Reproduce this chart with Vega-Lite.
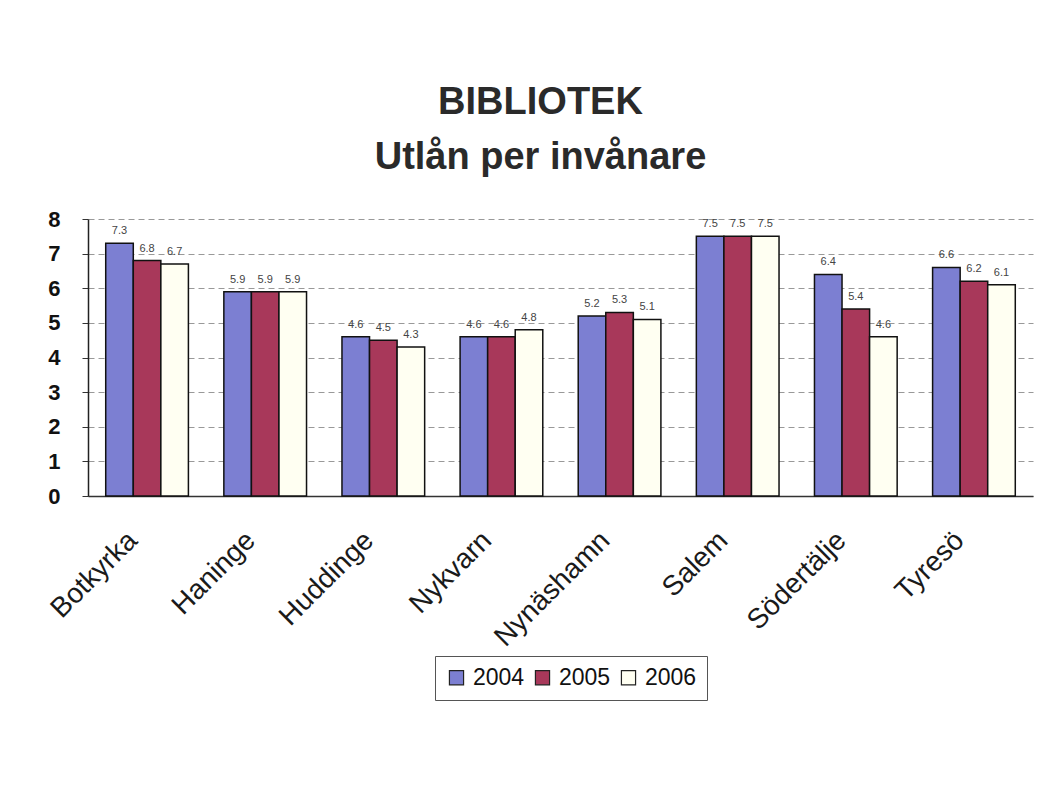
{
  "$schema": "https://vega.github.io/schema/vega-lite/v6.json",
  "width": 945,
  "height": 277,
  "padding": {"left": 45, "top": 84, "right": 25, "bottom": 10},
  "background": "white",
  "title": {
    "text": ["BIBLIOTEK", "Utlån per invånare"],
    "font": "Liberation Sans",
    "fontSize": 38,
    "fontWeight": "bold",
    "color": "#2a2a2a",
    "lineHeight": 55,
    "offset": 31,
    "anchor": "middle",
    "dx": -20
  },
  "config": {
    "font": "Liberation Sans",
    "view": {"stroke": null}
  },
  "data": {
    "values": [
      {"kommun": "Botkyrka", "year": "2004", "value": 7.3},
      {"kommun": "Botkyrka", "year": "2005", "value": 6.8},
      {"kommun": "Botkyrka", "year": "2006", "value": 6.7},
      {"kommun": "Haninge", "year": "2004", "value": 5.9},
      {"kommun": "Haninge", "year": "2005", "value": 5.9},
      {"kommun": "Haninge", "year": "2006", "value": 5.9},
      {"kommun": "Huddinge", "year": "2004", "value": 4.6},
      {"kommun": "Huddinge", "year": "2005", "value": 4.5},
      {"kommun": "Huddinge", "year": "2006", "value": 4.3},
      {"kommun": "Nykvarn", "year": "2004", "value": 4.6},
      {"kommun": "Nykvarn", "year": "2005", "value": 4.6},
      {"kommun": "Nykvarn", "year": "2006", "value": 4.8},
      {"kommun": "Nynäshamn", "year": "2004", "value": 5.2},
      {"kommun": "Nynäshamn", "year": "2005", "value": 5.3},
      {"kommun": "Nynäshamn", "year": "2006", "value": 5.1},
      {"kommun": "Salem", "year": "2004", "value": 7.5},
      {"kommun": "Salem", "year": "2005", "value": 7.5},
      {"kommun": "Salem", "year": "2006", "value": 7.5},
      {"kommun": "Södertälje", "year": "2004", "value": 6.4},
      {"kommun": "Södertälje", "year": "2005", "value": 5.4},
      {"kommun": "Södertälje", "year": "2006", "value": 4.6},
      {"kommun": "Tyresö", "year": "2004", "value": 6.6},
      {"kommun": "Tyresö", "year": "2005", "value": 6.2},
      {"kommun": "Tyresö", "year": "2006", "value": 6.1}
    ]
  },
  "encoding": {
    "x": {
      "field": "kommun",
      "type": "nominal",
      "sort": null,
      "title": null,
      "scale": {"paddingInner": 0.3, "paddingOuter": 0.15},
      "axis": {
        "labelAngle": -45,
        "labelFontSize": 28,
        "labelFontWeight": "normal",
        "labelColor": "#1a1a1a",
        "labelAlign": "right",
        "labelBaseline": "middle",
        "labelPadding": 40,
        "labelOffset": -14,
        "ticks": false,
        "domainColor": "#333",
        "domainWidth": 1.5
      }
    },
    "xOffset": {"field": "year", "type": "nominal", "sort": ["2004", "2005", "2006"]},
    "y": {
      "field": "value",
      "type": "quantitative",
      "title": null,
      "scale": {"domain": [0, 8], "nice": false},
      "axis": {
        "values": [0, 1, 2, 3, 4, 5, 6, 7, 8],
        "labelFontSize": 22,
        "labelFontWeight": "bold",
        "labelColor": "#111",
        "labelPadding": 22,
        "tickSize": 6,
        "tickColor": "#333",
        "domainColor": "#222",
        "domainWidth": 1.5,
        "gridColor": "#999",
        "gridDash": [6, 4],
        "gridWidth": 1
      }
    }
  },
  "layer": [
    {
      "mark": {"type": "bar", "stroke": "#111", "strokeWidth": 1.5},
      "encoding": {
        "color": {
          "field": "year",
          "type": "nominal",
          "scale": {"domain": ["2004", "2005", "2006"], "range": ["#7c7fd2", "#a8385a", "#fffff2"]},
          "legend": {
            "title": null,
            "orient": "none",
            "legendX": 347,
            "legendY": 437,
            "direction": "horizontal",
            "symbolType": "square",
            "symbolSize": 200,
            "symbolStrokeColor": "#222",
            "symbolStrokeWidth": 1.2,
            "labelFontSize": 23,
            "labelColor": "#111",
            "labelOffset": 5,
            "columnPadding": 6,
            "padding": 10,
            "strokeColor": "#555",
            "fillColor": "white"
          }
        }
      }
    },
    {
      "mark": {"type": "text", "dy": -12, "fontSize": 11, "color": "#444"},
      "encoding": {
        "text": {"field": "value", "type": "quantitative", "format": ".1f"}
      }
    }
  ]
}
